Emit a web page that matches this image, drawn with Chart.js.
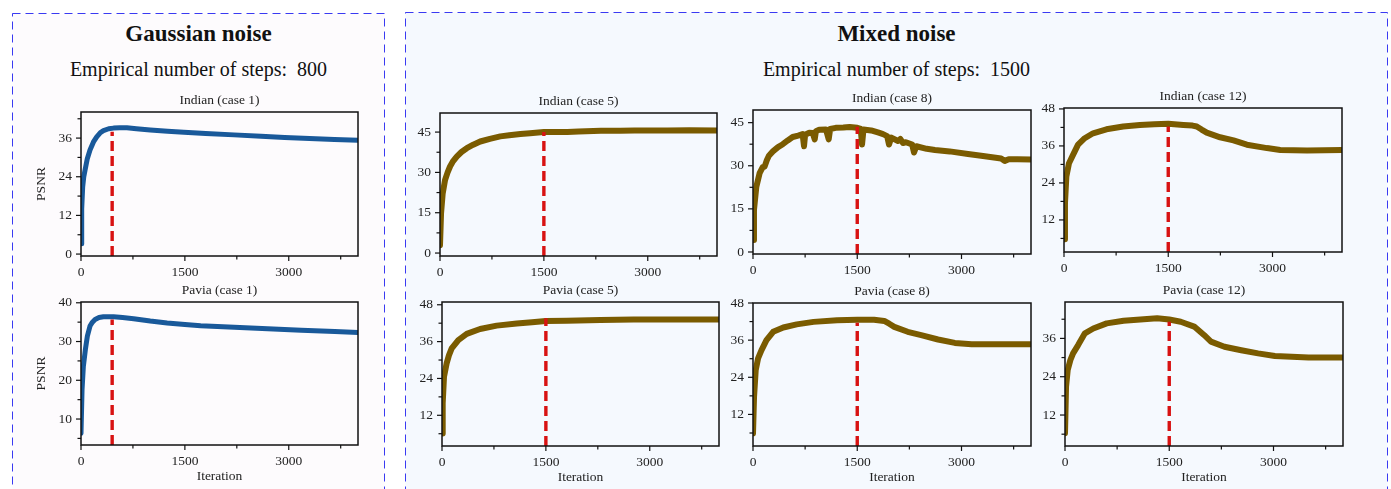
<!DOCTYPE html>
<html>
<head>
<meta charset="utf-8">
<script src="https://cdn.jsdelivr.net/npm/chart.js@4.4.1/dist/chart.umd.min.js"></script>
<style>
  body { margin: 0; width: 1391px; height: 489px; overflow: hidden; background: #fff; position: relative; font-family: "Liberation Serif", serif; }
  svg { position: absolute; left: 0; top: 0; }
  .head { position: absolute; text-align: center; color: #111; white-space: nowrap; }
  canvas { position: absolute; }
</style>
</head>
<body>
<svg width="1391" height="489">
  <rect x="12.5" y="13.5" width="372" height="520" fill="#fdfbfd" stroke="#3a3af2" stroke-width="1" stroke-dasharray="8 5"/>
  <rect x="405.5" y="12.5" width="982" height="520" fill="#f5f9fe" stroke="#3a3af2" stroke-width="1" stroke-dasharray="8 5"/>
</svg>
<div class="head" style="left:12px;width:373px;top:21px;font:bold 23px/26px 'Liberation Serif'">Gaussian noise</div>
<div class="head" style="left:12px;width:373px;top:57px;font:20px/24px 'Liberation Serif'">Empirical number of steps:&nbsp; 800</div>
<div class="head" style="left:405px;width:983px;top:21px;font:bold 23px/26px 'Liberation Serif'">Mixed noise</div>
<div class="head" style="left:405px;width:983px;top:57px;font:20px/24px 'Liberation Serif'">Empirical number of steps:&nbsp; 1500</div>

<script>
// ---- datos (iteracion, PSNR) ----
const indian1Iter = [0, 10, 24, 40, 58, 90, 130, 180, 227, 280, 324, 400, 470, 560, 663, 800, 1000, 1250, 1485, 1800, 2210, 2600, 2940, 3300, 3660, 4000];
const indian1Psnr = [3.2, 14, 20.8, 24, 26, 29.5, 32.3, 34.8, 36.4, 37.7, 38.3, 38.9, 39.1, 39.2, 39.2, 38.9, 38.5, 38.1, 37.8, 37.4, 37, 36.6, 36.2, 35.9, 35.6, 35.3];

const pavia1Iter = [0, 15, 34, 63, 92, 130, 165, 203, 260, 324, 470, 600, 760, 1000, 1244, 1500, 1728, 2212, 2696, 3180, 3664, 4000];
const pavia1Psnr = [6.3, 17.5, 23.6, 27.9, 31.4, 34, 35, 35.7, 36.2, 36.4, 36.4, 36.2, 35.9, 35.3, 34.8, 34.4, 34.1, 33.7, 33.3, 32.9, 32.6, 32.3];

const indian5Iter = [0, 15, 39, 73, 110, 145, 190, 242, 310, 387, 480, 581, 720, 871, 1000, 1161, 1300, 1500, 1700, 1839, 2000, 2323, 2600, 2807, 3100, 3290, 3600, 4000];
const indian5Psnr = [2.9, 14.7, 22.2, 27.2, 30, 32.2, 34.2, 35.9, 37.6, 39, 40.3, 41.5, 42.5, 43.4, 43.8, 44.3, 44.6, 45, 45, 45, 45.2, 45.5, 45.5, 45.6, 45.6, 45.6, 45.7, 45.6];

const indian8Iter = [0, 14, 48, 95, 140, 167, 200, 229, 286, 360, 429, 500, 571, 650, 714, 734, 750, 810, 860, 888, 905, 952, 1050, 1089, 1110, 1190, 1300, 1391, 1500, 1550, 1569, 1590, 1700, 1809, 1871, 1930, 1957, 1990, 2087, 2120, 2159, 2200, 2290, 2317, 2351, 2500, 2618, 2830, 3094, 3310, 3570, 3622, 3680, 3808, 4000];
const indian8Psnr = [4.2, 14.6, 22.7, 27.4, 29.5, 29.7, 32, 33.5, 35, 36.5, 37.5, 38.8, 40, 40.5, 41, 36.8, 40.8, 41.5, 41.4, 39.2, 42, 42.5, 42.6, 39.2, 42.8, 43.2, 43.3, 43.5, 43.2, 42.8, 37.4, 42.6, 42.3, 41.5, 41, 40.3, 37.4, 39.8, 38.6, 39.3, 37.9, 38.2, 37.4, 34.6, 36.8, 35.9, 35.5, 35, 34.1, 33.4, 32.5, 31.7, 32.3, 32.3, 32.2];

const indian12Iter = [0, 14, 34, 72, 130, 202, 298, 418, 611, 851, 1092, 1300, 1500, 1717, 1850, 1910, 1980, 2054, 2246, 2439, 2631, 2920, 3112, 3497, 4000];
const indian12Psnr = [5.7, 17.5, 26.1, 30.4, 33.1, 36.4, 38.5, 40.1, 41.4, 42.3, 42.8, 43, 43.2, 42.8, 42.6, 42.3, 41.3, 40.3, 38.8, 37.8, 36.4, 35.3, 34.7, 34.5, 34.7];

const pavia5Iter = [0, 10, 29, 67, 100, 140, 236, 357, 550, 790, 1080, 1300, 1500, 1803, 2285, 2767, 3250, 4000];
const pavia5Psnr = [6.1, 15.9, 24.6, 28.9, 31.5, 33.8, 36.5, 38.5, 40.1, 41.2, 41.9, 42.3, 42.7, 42.8, 43, 43.2, 43.2, 43.2];

const pavia8Iter = [0, 15, 39, 73, 121, 194, 290, 436, 629, 871, 1210, 1500, 1742, 1888, 1960, 2033, 2226, 2420, 2662, 2904, 3146, 3630, 4000];
const pavia8Psnr = [5.9, 17.7, 26.3, 30.1, 32.7, 36, 38.7, 40.1, 41.1, 41.9, 42.4, 42.6, 42.6, 42.2, 41.3, 40.3, 38.7, 37.6, 36.2, 35.1, 34.7, 34.7, 34.7];

const pavia12Iter = [0, 15, 39, 77, 116, 189, 286, 407, 600, 842, 1084, 1326, 1500, 1665, 1859, 2004, 2100, 2294, 2536, 2778, 3020, 3504, 4000];
const pavia12Psnr = [6.3, 20.9, 26.1, 29.2, 31.3, 33.9, 37.6, 39.1, 40.7, 41.5, 41.9, 42.3, 41.9, 41.2, 39.7, 37, 35, 33.4, 32.3, 31.3, 30.5, 30, 30];

// linea roja (paso empirico) y su tope
const gaussianStep = 450;
const mixedStep = 1500;
const stepTop = [38.0, 35.7, 45, 43.6, 42.3, 43.6, 41.6, 41.2];

const titles = ['Indian (case 1)', 'Pavia (case 1)', 'Indian (case 5)', 'Indian (case 8)', 'Indian (case 12)', 'Pavia (case 5)', 'Pavia (case 8)', 'Pavia (case 12)'];

const xTicks = [0, 750, 1500, 2250, 3000, 3750];
const xMajor = [0, 1500, 3000];
const yTicks12 = [6, 12, 18, 24, 30, 36, 42, 48];
const yMajor12 = [12, 24, 36, 48];
const yTicks15 = [0, 7.5, 15, 22.5, 30, 37.5, 45];
const yMajor15 = [0, 15, 30, 45];
const yTicksI1 = [0, 6, 12, 18, 24, 30, 36, 42];
const yMajorI1 = [0, 12, 24, 36];
const yTicksP1 = [5, 10, 15, 20, 25, 30, 35, 40];
const yMajorP1 = [10, 20, 30, 40];

const blue = '#19599a';
const olive = '#7a5b00';
const red = '#d81212';

// posicion de cada grafico (caja del area de trazado) y escala
const panels = [
  { iter: indian1Iter, psnr: indian1Psnr, step: gaussianStep, color: blue, lw: 5, L: 81, T: 112, R: 358, B: 256, yMin: -0.6, yMax: 44.1, yt: yTicksI1, ym: yMajorI1, psnrLabel: true, iterLabel: false },
  { iter: pavia1Iter, psnr: pavia1Psnr, step: gaussianStep, color: blue, lw: 5, L: 81, T: 302, R: 358, B: 445, yMin: 3.3, yMax: 40.2, yt: yTicksP1, ym: yMajorP1, psnrLabel: true, iterLabel: true },
  { iter: indian5Iter, psnr: indian5Psnr, step: mixedStep, color: olive, lw: 6, L: 440, T: 113, R: 717, B: 256, yMin: -1.1, yMax: 52.1, yt: yTicks15, ym: yMajor15 },
  { iter: indian8Iter, psnr: indian8Psnr, step: mixedStep, color: olive, lw: 6, L: 753, T: 110, R: 1031, B: 254, yMin: -0.7, yMax: 49.4, yt: yTicks15, ym: yMajor15 },
  { iter: indian12Iter, psnr: indian12Psnr, step: mixedStep, color: olive, lw: 6, L: 1064, T: 108, R: 1342, B: 252, yMin: 1.6, yMax: 48.3, yt: yTicks12, ym: yMajor12 },
  { iter: pavia5Iter, psnr: pavia5Psnr, step: mixedStep, color: olive, lw: 6, L: 442, T: 302, R: 719, B: 446, yMin: 2.0, yMax: 48.9, yt: yTicks12, ym: yMajor12, iterLabel: true },
  { iter: pavia8Iter, psnr: pavia8Psnr, step: mixedStep, color: olive, lw: 6, L: 753, T: 303, R: 1031, B: 446, yMin: 1.8, yMax: 48.0, yt: yTicks12, ym: yMajor12, iterLabel: true },
  { iter: pavia12Iter, psnr: pavia12Psnr, step: mixedStep, color: olive, lw: 6, L: 1065, T: 302, R: 1343, B: 446, yMin: 2.3, yMax: 47.4, yt: yTicks12.slice(0, 7), ym: yMajor12.slice(0, 3), iterLabel: true }
];

Chart.defaults.font.family = "'Liberation Serif', serif";
Chart.defaults.color = '#222';
Chart.defaults.animation = false;

const YW = 60, TH = 24, PADR = 10, FS = 13.5;

// marco y ticks (mayores y menores) hacia afuera
const frameTicks = {
  id: 'frameTicks',
  afterDraw(chart) {
    const { ctx, chartArea: a, scales } = chart;
    ctx.save();
    ctx.strokeStyle = '#111';
    ctx.lineWidth = 1.2;
    scales.x.ticks.forEach(t => {
      const px = scales.x.getPixelForValue(t.value);
      ctx.beginPath(); ctx.moveTo(px, a.bottom); ctx.lineTo(px, a.bottom + (t.label ? 5 : 3.5)); ctx.stroke();
    });
    scales.y.ticks.forEach(t => {
      const py = scales.y.getPixelForValue(t.value);
      ctx.beginPath(); ctx.moveTo(a.left, py); ctx.lineTo(a.left - (t.label ? 5 : 3.5), py); ctx.stroke();
    });
    ctx.lineWidth = 1.5;
    ctx.strokeRect(a.left, a.top, a.right - a.left, a.bottom - a.top);
    ctx.restore();
  }
};

panels.forEach((p, i) => {
  const cv = document.createElement('canvas');
  const XH = p.iterLabel ? 40 : 24;
  const w = (p.R - p.L) + YW + PADR;
  const h = (p.B - p.T) + TH + XH;
  cv.width = w; cv.height = h;
  cv.style.left = (p.L - YW) + 'px';
  cv.style.top = (p.T - TH) + 'px';
  cv.style.width = w + 'px'; cv.style.height = h + 'px';
  document.body.appendChild(cv);

  new Chart(cv, {
    type: 'line',
    data: {
      datasets: [
        {
          data: [{ x: p.step, y: p.yMin }, { x: p.step, y: stepTop[i] }],
          borderColor: red, borderWidth: 3.4, borderDash: [10, 5], pointRadius: 0, order: 0
        },
        {
          data: p.iter.map((x, k) => ({ x: x, y: p.psnr[k] })),
          borderColor: p.color, borderWidth: p.lw, pointRadius: 0,
          borderJoinStyle: 'round', borderCapStyle: 'round', order: 1
        }
      ]
    },
    options: {
      responsive: false,
      devicePixelRatio: 1,
      layout: { padding: { left: 0, right: PADR, top: 0, bottom: 0 } },
      plugins: {
        legend: { display: false },
        tooltip: { enabled: false },
        title: {
          display: true, text: titles[i], fullSize: false,
          font: { size: FS, weight: 'normal' }, color: '#222',
          padding: { top: 4.6, bottom: 3.2 }
        }
      },
      scales: {
        x: {
          type: 'linear', min: 0, max: 4000,
          afterBuildTicks: s => { s.ticks = xTicks.map(v => ({ value: v })); },
          afterFit: s => { s.height = XH; },
          ticks: { autoSkip: false, maxRotation: 0, padding: 3, font: { size: FS },
                   callback: v => xMajor.includes(v) ? String(v) : '' },
          grid: { drawOnChartArea: false, drawTicks: true, tickLength: 5, tickColor: 'rgba(0,0,0,0)', color: 'rgba(0,0,0,0)' },
          border: { display: false },
          title: { display: !!p.iterLabel, text: 'Iteration', font: { size: FS }, padding: { top: 0, bottom: 0.8 } }
        },
        y: {
          type: 'linear', min: p.yMin, max: p.yMax,
          afterBuildTicks: s => { s.ticks = p.yt.map(v => ({ value: v })); },
          afterFit: s => { s.width = YW; },
          ticks: { autoSkip: false, padding: 4, font: { size: FS },
                   callback: v => p.ym.includes(v) ? String(v) : '' },
          grid: { drawOnChartArea: false, drawTicks: true, tickLength: 5, tickColor: 'rgba(0,0,0,0)', color: 'rgba(0,0,0,0)' },
          border: { display: false },
          title: { display: !!p.psnrLabel, text: 'PSNR', font: { size: FS }, padding: { top: 12, bottom: 0 } }
        }
      }
    },
    plugins: [frameTicks]
  });
});
</script>
</body>
</html>
